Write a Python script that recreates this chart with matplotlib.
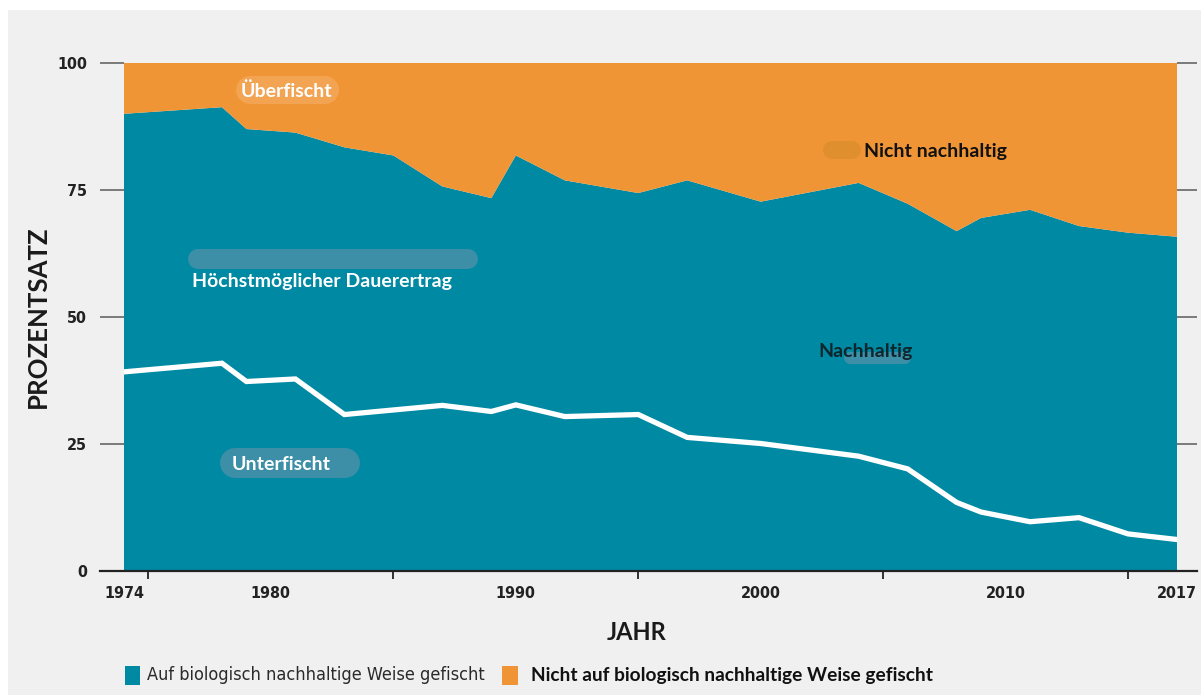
import matplotlib
matplotlib.use("Agg")
import matplotlib.pyplot as plt
import matplotlib.patches as mpatches
from matplotlib import font_manager as fm

# ---------------- data ----------------
years = [1974, 1978, 1979, 1981, 1983, 1985, 1987, 1989, 1990, 1992, 1995,
         1997, 2000, 2004, 2006, 2008, 2009, 2011, 2013, 2015, 2017]
sustainable = [90.0, 91.3, 87.0, 86.3, 83.4, 81.8, 75.7, 73.4, 81.8, 76.9, 74.4,
               76.9, 72.7, 76.4, 72.3, 66.9, 69.5, 71.1, 67.9, 66.6, 65.8]
unsustainable = [100 - v for v in sustainable]

msy_years = [1974, 1978, 1979, 1981, 1983, 1987, 1989, 1990, 1992, 1995,
             1997, 2000, 2004, 2006, 2008, 2009, 2011, 2013, 2015, 2017]
underfished = [39.2, 40.9, 37.3, 37.8, 30.8, 32.6, 31.4, 32.7, 30.4, 30.8,
               26.3, 25.1, 22.6, 20.1, 13.5, 11.6, 9.7, 10.5, 7.3, 6.2]

ytick_vals = [0, 25, 50, 75, 100]
xlabel_years = [1974, 1980, 1990, 2000, 2010, 2017]
xminor_years = [1975, 1980, 1985, 1990, 1995, 2000, 2005, 2010, 2015]

legend_labels = ["Auf biologisch nachhaltige Weise gefischt",
                 "Nicht auf biologisch nachhaltige Weise gefischt"]

TEAL = "#0089A3"
ORANGE = "#F09536"
BG = "#F0F0F0"
CAL = ["Lato", "Open Sans", "DejaVu Sans"]

# condensed font (DejaVu Sans Condensed if available)
cond_files = [f for f in fm.findSystemFonts() if "Condensed" in f and "DejaVuSans" in f]
cond_bold = next((f for f in cond_files if f.endswith("DejaVuSansCondensed-Bold.ttf")), None)
cond_reg = next((f for f in cond_files if f.endswith("DejaVuSansCondensed.ttf")), None)


def cprop(size, bold=False):
    f = cond_bold if bold else cond_reg
    if f:
        return fm.FontProperties(fname=f, size=size)
    return fm.FontProperties(family="DejaVu Sans", size=size,
                             weight="bold" if bold else "normal", stretch="condensed")


W, H = 1201, 695
fig = plt.figure(figsize=(W / 100, H / 100), dpi=100)
fig.patch.set_facecolor("white")
fig.patches.append(mpatches.Rectangle((8 / W, 0), 1 - 8 / W, 1 - 10 / H,
                                      transform=fig.transFigure,
                                      facecolor=BG, edgecolor="none", zorder=-10))

left, right, bottom, top = 124, 1177, 571, 63
ax = fig.add_axes([left / W, 1 - bottom / H, (right - left) / W, (bottom - top) / H])
ax.set_facecolor("none")
ax.set_xlim(1974, 2017)
ax.set_ylim(0, 100)

ax.stackplot(years, sustainable, unsustainable, colors=[TEAL, ORANGE],
             linewidth=0, zorder=1)
ax.plot(msy_years, underfished, color="white", lw=3.8, zorder=3,
        solid_joinstyle="miter")

for s in ax.spines.values():
    s.set_visible(False)

axw = right - left
ax.plot([-24 / axw, 1 + 20 / axw], [0, 0], transform=ax.transAxes,
        color="#222222", lw=1.6, clip_on=False, zorder=5)

# y ticks
ax.set_yticks(ytick_vals)
ax.set_yticklabels([str(v) for v in ytick_vals])
for lab in ax.get_yticklabels():
    lab.set_fontproperties(cprop(11.5, True))
    lab.set_color("#222222")
ax.tick_params(axis="y", which="major", left=True, right=True, length=17.5,
               width=1.2, color="#666666", pad=9)
for t in ax.yaxis.get_major_ticks():
    t.tick2line.set_color("#9a9a9a")
    t.tick2line.set_markersize(14.5)

# x ticks
ax.set_xticks(xlabel_years)
ax.set_xticklabels([str(v) for v in xlabel_years])
for lab in ax.get_xticklabels():
    lab.set_fontproperties(cprop(11.5, True))
    lab.set_color("#222222")
ax.tick_params(axis="x", which="major", length=0, pad=11)
ax.set_xticks(xminor_years, minor=True)
ax.tick_params(axis="x", which="minor", length=5.5, width=1.3, color="#222222")

# axis titles
fig.text(38 / W, 1 - 317 / H, "PROZENTSATZ", rotation=90, ha="center",
         va="center", fontsize=18.5, fontweight="bold", fontfamily=CAL,
         color="#1a1a1a")
fig.text(637 / W, 1 - 632 / H, "JAHR", ha="center", va="center", fontsize=17,
         fontweight="bold", fontfamily=CAL, color="#1a1a1a")


def px2data(px, py):
    return 1974 + (px - left) * 43 / axw, (bottom - py) * 100 / (bottom - top)


def blob(px0, px1, py, lw_px, color, alpha=1.0):
    x0, y = px2data(px0, py)
    x1, _ = px2data(px1, py)
    ax.plot([x0, x1], [y, y], color=color, lw=lw_px * 0.72, alpha=alpha,
            solid_capstyle="round", zorder=2)


blob(250, 325, 90, 28, "#F3A452")
blob(832, 852, 150, 18, "#E08F2E")
blob(198, 468, 259, 20, "#3C8FA6")
blob(850, 905, 358, 12, "#3C8FA6")
blob(235, 345, 463, 30, "#3C8FA6")

labels = [
    ("Überfischt", 241, 91, "white"),
    ("Nicht nachhaltig", 864, 151, "#111111"),
    ("Höchstmöglicher Dauerertrag", 192, 281, "white"),
    ("Nachhaltig", 818, 352, "#10262d"),
    ("Unterfischt", 232, 464, "white"),
]
for txt, px, py, col in labels:
    x, y = px2data(px, py)
    ax.text(x, y, txt, ha="left", va="center", fontsize=14, fontweight="bold",
            fontfamily=CAL, color=col, zorder=4)

# legend (manual)
fig.patches.append(mpatches.Rectangle((125 / W, 1 - 685 / H), 15 / W, 19 / H,
                                      transform=fig.transFigure,
                                      facecolor=TEAL, edgecolor="none"))
fig.text(147 / W, 1 - 675 / H, legend_labels[0], ha="left", va="center",
         fontproperties=cprop(13), color="#2a2a2a")
fig.patches.append(mpatches.Rectangle((502 / W, 1 - 685 / H), 16 / W, 19 / H,
                                      transform=fig.transFigure,
                                      facecolor=ORANGE, edgecolor="none"))
fig.text(531 / W, 1 - 675 / H, legend_labels[1], ha="left", va="center",
         fontsize=13.8, fontweight="bold", fontfamily=CAL, color="#111111")

fig.savefig("out.png", dpi=100, facecolor=fig.get_facecolor())
